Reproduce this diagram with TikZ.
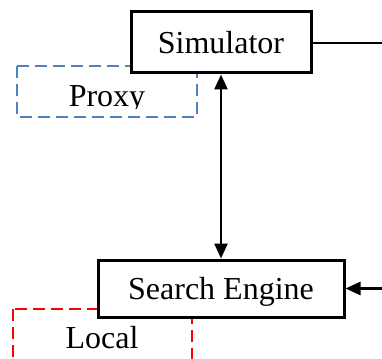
\documentclass[tikz,border=0pt]{standalone}
\usepackage{fontspec}
\setmainfont{Liberation Serif}
\usetikzlibrary{arrows.meta}
\definecolor{proxyblue}{RGB}{79,129,189}
\definecolor{localred}{RGB}{255,0,0}
\tikzset{
  block/.style={draw=black, line width=3pt, fill=white, inner sep=0pt,
    font=\fontsize{32}{36}\selectfont, text height=22pt, text depth=0pt},
  zone/.style={line width=2.1pt, dash pattern=on 12pt off 6pt},
  label/.style={font=\fontsize{32}{36}\selectfont, inner sep=0pt, anchor=base},
  link/.style={line width=2.6pt},
  headtip/.tip={Triangle[length=15pt,width=13pt]}
}
\begin{document}
\begin{tikzpicture}[x=1pt,y=-1pt]
  \useasboundingbox (0,0) rectangle (382,358);
  \clip (0,0) rectangle (382,358);
  % dashed groupings behind the blocks
  \draw[zone, draw=proxyblue] (17,66) rectangle (197,117);
  \draw[zone, draw=localred] (13,309) rectangle (192,380);
  \begin{scope}
    \clip (0,60) rectangle (382,108.5);
    \node[label] (proxy) at (107,107) {Proxy};
  \end{scope}
  \node[label] (local) at (102,348) {Local};
  % main blocks
  \node[block, minimum width=180pt, minimum height=61pt] (sim) at (221,42.5) {Simulator};
  \node[block, minimum width=246pt, minimum height=57pt, text depth=-1.5pt] (se) at (221,288.5) {Search Engine};
  % connectors
  \coordinate (simout) at (386,43);
  \coordinate (sein) at (386,288.5);
  \draw[link] (sim.east |- simout) -- (simout);
  \draw[link, -headtip] (sein) -- (se.east);
  \draw[link, headtip-headtip] (sim.south) -- (se.north);
\end{tikzpicture}
\end{document}
